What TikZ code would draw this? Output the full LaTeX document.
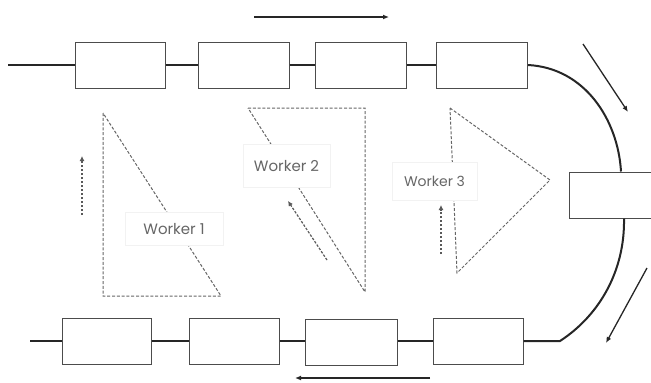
\documentclass[tikz,border=0pt]{standalone}
\usepackage{fontspec}
\setmainfont{Poppins}
\usetikzlibrary{arrows.meta}
\tikzset{
  station/.style={draw=black!70, line width=1pt, fill=white, minimum height=46pt, inner sep=0pt},
  belt/.style={line width=2pt, black!85},
  zone/.style={draw=black!60, line width=1pt, dash pattern=on 3pt off 1.8pt},
  label/.style={fill=white, draw=black!5, line width=0.4pt, text=black!60, font=\fontsize{15}{17}\selectfont, inner sep=0pt},
  flow/.style={line width=1.3pt, black!85, -{Latex[length=6pt,width=5pt]}},
  walk/.style={line width=1.2pt, black!65, dash pattern=on 2.5pt off 1.5pt, -{Latex[length=5pt,width=5pt]}}
}
\begin{document}
\begin{tikzpicture}[x=1pt,y=-1pt]
\useasboundingbox (0,0) rectangle (651,383);
% top row
\node[station, minimum width=90pt] (t1) at (120,65) {};
\node[station, minimum width=91pt] (t2) at (243.5,65) {};
\node[station, minimum width=91pt] (t3) at (360.5,65) {};
\node[station, minimum width=91pt] (t4) at (482,65) {};
% bottom row
\node[station, minimum width=89pt] (b1) at (106.5,341) {};
\node[station, minimum width=90pt] (b2) at (234,341) {};
\node[station, minimum width=92pt] (b3) at (351,342) {};
\node[station, minimum width=90pt] (b4) at (478,341) {};
% right station
\node[station, minimum width=82pt] (r) at (610,195) {};
\coordinate (tin) at (8,65);
\coordinate (bout) at (30,341);
\coordinate (bk) at (560,341);
% belts
\draw[belt] (tin) -- (t1.west);
\draw[belt] (t1.east) -- (t2.west);
\draw[belt] (t2.east) -- (t3.west);
\draw[belt] (t3.east) -- (t4.west);
\draw[belt] (t4.east) .. controls (585,68) and (618,120) .. (r.north west -| 621,0);
\draw[belt] (r.south west -| 624,0) .. controls (625,270) and (600,315) .. (bk) -- (b4.east);
\draw[belt] (b4.west) -- (b3.west |- b4.west);
\draw[belt] (b3.west |- b2.east) -- (b2.east);
\draw[belt] (b2.west) -- (b1.east);
\draw[belt] (b1.west) -- (bout);
% redraw middle bottom station on top of belt
\node[station, minimum width=92pt] at (351,342) {};
% flow arrows
\coordinate (fa1) at (254,17); \coordinate (fa2) at (389,17);
\draw[flow] (fa1) -- (fa2);
\coordinate (fb1) at (583,44); \coordinate (fb2) at (628,112);
\draw[flow] (fb1) -- (fb2);
\coordinate (fc1) at (647,268); \coordinate (fc2) at (606,343);
\draw[flow] (fc1) -- (fc2);
\coordinate (fd1) at (430,378); \coordinate (fd2) at (295,378);
\draw[flow] (fd1) -- (fd2);
% worker zones
\draw[zone] (103,113) -- (103,296) -- (221,296) -- cycle;
\draw[zone] (248,108) -- (365,108) -- (365,292) -- cycle;
\draw[zone] (450,108) -- (550,180) -- (457,273) -- cycle;
% labels
\node[label, minimum width=98pt, minimum height=33pt] (w1) at (174,229) {Worker 1};
\node[label, minimum width=87pt, minimum height=43pt] (w2) at (286.5,166) {Worker 2};
\node[label, minimum width=85pt, minimum height=38pt, font=\fontsize{14}{16}\selectfont] (w3) at (434.5,181) {Worker 3};
% worker walk arrows
\coordinate (wa1) at (82,215); \coordinate (wa2) at (82,156);
\draw[walk] (wa1) -- (wa2);
\coordinate (wb1) at (327,260); \coordinate (wb2) at (288,201);
\draw[walk] (wb1) -- (wb2);
\coordinate (wc1) at (441,254); \coordinate (wc2) at (441,205);
\draw[walk] (wc1) -- (wc2);
\end{tikzpicture}
\end{document}
